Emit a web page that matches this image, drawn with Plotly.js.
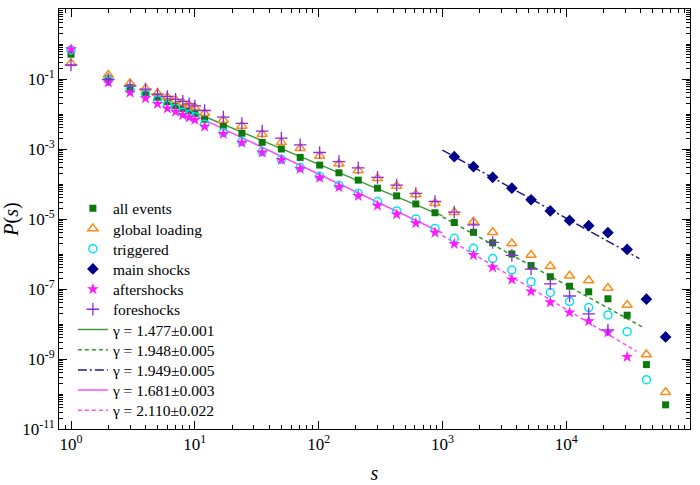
<!DOCTYPE html>
<html>
<head>
<meta charset="utf-8">
<script src="https://cdn.plot.ly/plotly-3.0.1.min.js"></script>
<style>html,body{margin:0;padding:0;background:#fff;}#chart{width:700px;height:485px;}</style>
</head>
<body>
<div id="chart"></div>
<script>
// bin centres (event size s)
var sizes = [1,2,3,4,5,6,7,8,9,10,12,17,24,35,50,71,102,146,209,299,427,610,871,1247,1782,2547,3640,5202,7440,10640,15200,21730,31060,44460,63530];

var allEvents = [5.1e-1,1.05e-1,5.75e-2,4.07e-2,3.02e-2,2.24e-2,1.74e-2,1.45e-2,1.23e-2,1.05e-2,
  7.08e-3,4.57e-3,2.82e-3,1.55e-3,1.0e-3,5.75e-4,3.47e-4,2.09e-4,1.29e-4,7.59e-5,4.57e-5,2.69e-5,1.51e-5,
  7.94e-6,4.17e-6,2.09e-6,1.0e-6,4.68e-7,2.24e-7,1.20e-7,8.32e-8,5.25e-8,1.78e-8,6.92e-10,4.90e-11];

var globalLoading = [2.82e-1,1.30e-1,7.59e-2,5.37e-2,3.89e-2,3.02e-2,2.51e-2,2.09e-2,1.82e-2,1.55e-2,
  1.05e-2,6.76e-3,4.57e-3,2.63e-3,1.55e-3,1.05e-3,6.31e-4,3.80e-4,2.45e-4,1.45e-4,8.71e-5,5.01e-5,2.82e-5,
  1.55e-5,8.32e-6,4.17e-6,2.0e-6,9.33e-7,4.47e-7,2.40e-7,1.74e-7,1.07e-7,3.47e-8,1.35e-9,1.12e-10];

var triggered = [6.76e-1,9.55e-2,5.01e-2,3.72e-2,2.51e-2,1.82e-2,1.45e-2,1.12e-2,9.77e-3,8.32e-3,
  5.13e-3,2.95e-3,1.62e-3,8.32e-4,5.01e-4,2.95e-4,1.66e-4,9.12e-5,5.37e-5,3.16e-5,1.70e-5,1.0e-5,5.37e-6,
  2.82e-6,1.45e-6,7.41e-7,3.47e-7,1.62e-7,7.94e-8,4.37e-8,2.95e-8,1.82e-8,6.03e-9,2.57e-10,null];

var aftershocks = [7.08e-1,7.94e-2,4.07e-2,2.82e-2,1.95e-2,1.45e-2,1.17e-2,9.33e-3,7.94e-3,6.76e-3,
  4.37e-3,2.69e-3,1.51e-3,7.94e-4,4.90e-4,2.69e-4,1.51e-4,8.13e-5,4.57e-5,2.40e-5,1.35e-5,7.59e-6,4.07e-6,
  1.95e-6,9.33e-7,4.17e-7,1.86e-7,8.51e-8,4.17e-8,2.14e-8,1.20e-8,5.75e-9,1.15e-9,null,null];

var foreshocks = [2.51e-1,9.77e-2,6.31e-2,5.13e-2,3.72e-2,3.16e-2,2.63e-2,2.29e-2,1.95e-2,1.70e-2,
  1.26e-2,8.13e-3,5.37e-3,3.24e-3,2.04e-3,1.32e-3,7.94e-4,4.37e-4,2.88e-4,1.55e-4,9.33e-5,5.37e-5,3.16e-5,
  1.58e-5,6.76e-6,2.14e-6,9.12e-7,3.72e-7,1.41e-7,6.31e-8,1.95e-8,6.76e-9,null,null,null];

var mainSizes = [1247,1782,2547,3640,5202,7440,10640,15200,21730,31060,44460,63530];
var mainShocks = [6.03e-4,3.12e-4,1.55e-4,7.59e-5,3.55e-5,1.70e-5,9.12e-6,6.46e-6,4.07e-6,1.35e-6,5.13e-8,4.27e-9];

// power-law fits P(s) = A * s^-gamma over [sMin, sMax]
var fitLabels = ['γ = 1.477±0.001','γ = 1.948±0.005','γ = 1.949±0.005','γ = 1.681±0.003','γ = 2.110±0.022'];
var fitGamma  = [1.477, 1.948, 1.949, 1.681, 2.110];
var fitAmp    = [0.331, 8.05, 656, 0.44, 7.23];
var fitSMin   = [10, 1000, 1000, 10, 1000];
var fitSMax   = [1000, 41000, 39000, 1000, 37000];

// labelled decades and unlabelled (major) decades
var yLabelVals = [1e-11,1e-9,1e-7,1e-5,1e-3,1e-1,10];
var yLabelText = ['10<sup>-11</sup>','10<sup>-9</sup>','10<sup>-7</sup>','10<sup>-5</sup>','10<sup>-3</sup>','10<sup>-1</sup>','10<sup>1</sup>'];
var yPlainVals = [1e-10,1e-8,1e-6,1e-4,1e-2,1];
var xTickVals = [1,10,100,1000,10000,100000];
var xTickText = ['10<sup>0</sup>','10<sup>1</sup>','10<sup>2</sup>','10<sup>3</sup>','10<sup>4</sup>','10<sup>5</sup>'];

var fitStyles = [
  {color:'#3a9a3a', dash:'solid'},
  {color:'#2e9a2e', dash:'4px,3px'},
  {color:'#1a1a8c', dash:'9px,3px,2px,3px'},
  {color:'#ff4dff', dash:'solid'},
  {color:'#ff4dff', dash:'4px,3px'}
];

var traces = [];
for (var i = 0; i < fitGamma.length; i++) {
  var xs = [fitSMin[i], fitSMax[i]];
  var ys = xs.map(function(s){ return fitAmp[i] * Math.pow(s, -fitGamma[i]); });
  traces.push({x: xs, y: ys, mode: 'lines', name: fitLabels[i], legendrank: 10 + i,
    line: {color: fitStyles[i].color, width: 1.5, dash: fitStyles[i].dash}});
}

function mk(name, xs, ys, rank, marker) {
  return {x: xs, y: ys, mode: 'markers', name: name, legendrank: rank, marker: marker};
}
traces.push(mk('all events', sizes, allEvents, 1, {symbol:'square', size:7, color:'#0b7a0b'}));
traces.push(mk('global loading', sizes, globalLoading, 2, {symbol:'triangle-up-open', size:9, color:'#ff8c1a', line:{width:1.5, color:'#ff8c1a'}}));
traces.push(mk('triggered', sizes, triggered, 3, {symbol:'circle-open', size:8, color:'#00e5ee', line:{width:1.5, color:'#00e5ee'}}));
traces.push(mk('main shocks', mainSizes, mainShocks, 4, {symbol:'diamond', size:9, color:'#00008b'}));
traces.push(mk('aftershocks', sizes, aftershocks, 5, {symbol:'star', size:9, color:'#ff1aff'}));
traces.push(mk('foreshocks', sizes, foreshocks, 6, {symbol:'cross-thin-open', size:9, color:'#8a2be2', line:{width:1.3, color:'#8a2be2'}}));

var serif = 'Liberation Serif, Times New Roman, serif';
var minorTicks = {ticks: 'inside', ticklen: 4, tickcolor: '#000', tickwidth: 1, tickmode: 'linear', dtick: 'D1', showgrid: false};
var axisCommon = {
  type: 'log', showgrid: false, zeroline: false, showline: true, linecolor: '#000', linewidth: 1,
  mirror: 'allticks', ticks: 'inside', ticklen: 8, tickcolor: '#000', tickwidth: 1,
  tickmode: 'array', tickfont: {family: serif, size: 17, color: '#000'},
  minor: minorTicks
};

var layout = {
  width: 700, height: 485,
  margin: {l: 59, r: 10, t: 9, b: 56},
  paper_bgcolor: '#fff', plot_bgcolor: '#fff',
  font: {family: serif, color: '#000'},
  showlegend: true,
  legend: {x: 0.022, y: 0.565, xanchor: 'left', yanchor: 'top', bgcolor: 'rgba(0,0,0,0)',
    font: {family: serif, size: 15.5, color: '#000'}, tracegroupgap: 0, traceorder: 'normal'},
  xaxis: Object.assign({}, axisCommon, {range: [-0.097, 5.0], tickvals: xTickVals, ticktext: xTickText,
    title: {text: '<i>s</i>', font: {family: serif, size: 20}, standoff: 12}}),
  yaxis: Object.assign({}, axisCommon, {range: [-11, 1], tickvals: yLabelVals, ticktext: yLabelText,
    title: {text: '<i>P</i>(<i>s</i>)', font: {family: serif, size: 20}, standoff: 6}}),
  yaxis2: {type: 'log', range: [-11, 1], overlaying: 'y', side: 'left', anchor: 'x',
    showgrid: false, zeroline: false, showline: false, showticklabels: false,
    mirror: 'ticks', ticks: 'inside', ticklen: 8, tickcolor: '#000', tickwidth: 1,
    tickmode: 'array', tickvals: yPlainVals}
};

var legendRowGap = 20.2; // legend entries sit tighter than the default line height
var gd = document.getElementById('chart');
Plotly.newPlot(gd, traces, layout, {displayModeBar: false, staticPlot: true}).then(function(){
  var items = gd.querySelectorAll('.legend .traces');
  if (!items.length) return;
  var m = /translate\(\s*([-\d.]+)[ ,]+([-\d.]+)\s*\)/.exec(items[0].getAttribute('transform') || '');
  if (!m) return;
  var x0 = parseFloat(m[1]), y0 = parseFloat(m[2]);
  for (var k = 0; k < items.length; k++) {
    items[k].setAttribute('transform', 'translate(' + x0 + ',' + (y0 + k * legendRowGap) + ')');
  }
});
</script>
</body>
</html>
